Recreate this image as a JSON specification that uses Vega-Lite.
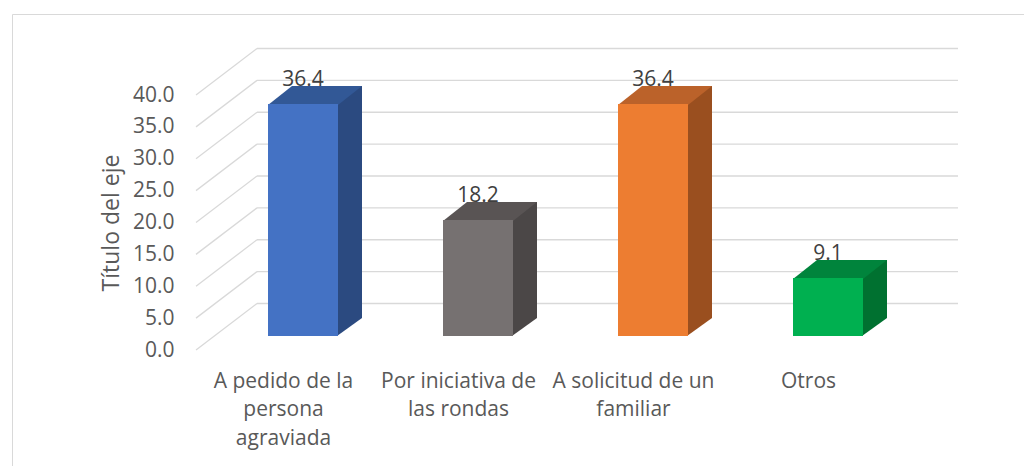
{
  "$schema": "https://vega.github.io/schema/vega-lite/v6.json",
  "autosize": {"type": "none"},
  "padding": {"left": 12, "top": 14, "right": 0, "bottom": 0},
  "width": 1012,
  "height": 452,
  "background": "#ffffff",
  "config": {
    "font": "Open Sans",
    "view": {"stroke": "#d9d9d9", "strokeWidth": 1}
  },
  "datasets": {
    "bars": [
      {"categoria": "A pedido de la persona agraviada", "valor": 36.4},
      {"categoria": "Por iniciativa de las rondas", "valor": 18.2},
      {"categoria": "A solicitud de un familiar", "valor": 36.4},
      {"categoria": "Otros", "valor": 9.1}
    ],
    "grid": [
      {"tick": 0}, {"tick": 5}, {"tick": 10}, {"tick": 15}, {"tick": 20},
      {"tick": 25}, {"tick": 30}, {"tick": 35}, {"tick": 40}
    ]
  },
  "resolve": {"scale": {"color": "independent"}},
  "encoding": {
    "x": {"field": "categoria", "type": "nominal", "sort": null, "title": null,
      "scale": {"domain": ["A pedido de la persona agraviada", "Por iniciativa de las rondas", "A solicitud de un familiar", "Otros"],
                "range": [184, 884], "paddingInner": 0, "paddingOuter": 0},
      "axis": {"title": null, "domain": false, "ticks": false, "tickSize": 0, "labelPadding": 0, "offset": -96,
               "labelAngle": 0, "labelFontSize": 21, "labelColor": "#595959", "labelLineHeight": 28.5,
               "labelBaseline": "top", "labelLimit": 400, "grid": false,
               "labelExpr": "datum.value == 'A pedido de la persona agraviada' ? ['A pedido de la', 'persona', 'agraviada'] : datum.value == 'Por iniciativa de las rondas' ? ['Por iniciativa de', 'las rondas'] : datum.value == 'A solicitud de un familiar' ? ['A solicitud de un', 'familiar'] : datum.label"}},
    "y": {"field": "valor", "type": "quantitative", "title": "Título del eje",
      "scale": {"domain": [0, 40], "range": [336, 81], "nice": false, "zero": true},
      "axis": {"title": "Título del eje", "values": [0, 5, 10, 15, 20, 25, 30, 35, 40], "format": ".1f",
               "grid": false, "domain": false, "ticks": false, "tickSize": 0, "labelPadding": 4, "offset": -166,
               "labelFontSize": 21, "labelColor": "#595959", "titleFontSize": 23, "titleColor": "#595959",
               "titleFontWeight": "normal", "titlePadding": 9}}
  },
  "layer": [
    {
      "data": {"name": "grid"},
      "mark": {"type": "rule", "color": "#d9d9d9", "strokeWidth": 1.3, "xOffset": -26.5, "x2Offset": 149.5, "yOffset": -46.5},
      "encoding": {
        "x": {"datum": "A pedido de la persona agraviada", "type": "nominal", "title": null,
          "axis": {"title": null, "domain": false, "ticks": false, "tickSize": 0, "labelPadding": 0, "offset": -96,
               "labelAngle": 0, "labelFontSize": 21, "labelColor": "#595959", "labelLineHeight": 28.5,
               "labelBaseline": "top", "labelLimit": 400, "grid": false,
               "labelExpr": "datum.value == 'A pedido de la persona agraviada' ? ['A pedido de la', 'persona', 'agraviada'] : datum.value == 'Por iniciativa de las rondas' ? ['Por iniciativa de', 'las rondas'] : datum.value == 'A solicitud de un familiar' ? ['A solicitud de un', 'familiar'] : datum.label"}},
        "x2": {"datum": "Otros"},
        "y": {"field": "tick", "type": "quantitative", "title": "Título del eje",
          "axis": {"title": "Título del eje", "values": [0, 5, 10, 15, 20, 25, 30, 35, 40], "format": ".1f",
               "grid": false, "domain": false, "ticks": false, "tickSize": 0, "labelPadding": 4, "offset": -166,
               "labelFontSize": 21, "labelColor": "#595959", "titleFontSize": 23, "titleColor": "#595959",
               "titleFontWeight": "normal", "titlePadding": 9}}
      }
    },
    {
      "data": {"name": "grid"},
      "mark": {"type": "point", "shape": "M 0 0 L -61 46.5", "size": 4, "filled": false, "opacity": 1, "stroke": "#d9d9d9", "strokeWidth": 1.3, "xOffset": -26.5, "yOffset": -46.5},
      "encoding": {
        "x": {"datum": "A pedido de la persona agraviada", "type": "nominal", "title": null,
          "axis": {"title": null, "domain": false, "ticks": false, "tickSize": 0, "labelPadding": 0, "offset": -96,
               "labelAngle": 0, "labelFontSize": 21, "labelColor": "#595959", "labelLineHeight": 28.5,
               "labelBaseline": "top", "labelLimit": 400, "grid": false,
               "labelExpr": "datum.value == 'A pedido de la persona agraviada' ? ['A pedido de la', 'persona', 'agraviada'] : datum.value == 'Por iniciativa de las rondas' ? ['Por iniciativa de', 'las rondas'] : datum.value == 'A solicitud de un familiar' ? ['A solicitud de un', 'familiar'] : datum.label"}},
        "y": {"field": "tick", "type": "quantitative", "title": "Título del eje",
          "axis": {"title": "Título del eje", "values": [0, 5, 10, 15, 20, 25, 30, 35, 40], "format": ".1f",
               "grid": false, "domain": false, "ticks": false, "tickSize": 0, "labelPadding": 4, "offset": -166,
               "labelFontSize": 21, "labelColor": "#595959", "titleFontSize": 23, "titleColor": "#595959",
               "titleFontWeight": "normal", "titlePadding": 9}}
      }
    },
    {
      "data": {"name": "bars"},
      "mark": {"type": "text", "fontSize": 21, "color": "#404040", "baseline": "alphabetic", "align": "center", "xOffset": 19.5, "yOffset": -32},
      "encoding": {
        "text": {"field": "valor", "type": "quantitative", "format": ".1f"}
      }
    },
    {
      "data": {"name": "bars"},
      "mark": {"type": "bar", "width": 25, "xOffset": 66, "yOffset": -32, "y2Offset": -32},
      "encoding": {
        "y2": {"datum": 0},
        "color": {"field": "categoria", "type": "nominal", "legend": null,
          "scale": {"domain": ["A pedido de la persona agraviada", "Por iniciativa de las rondas", "A solicitud de un familiar", "Otros"],
                    "range": ["#2b4a80", "#4b4747", "#9a4f1f", "#007130"]}}
      }
    },
    {
      "data": {"name": "bars"},
      "mark": {"type": "point", "shape": "M -1 0 L -1 -18 L 24 -18 Z", "size": 4, "filled": true, "opacity": 1, "strokeWidth": 0, "xOffset": 54.5, "yOffset": -14},
      "encoding": {
        "y": {"datum": 0, "type": "quantitative", "title": "Título del eje",
          "axis": {"title": "Título del eje", "values": [0, 5, 10, 15, 20, 25, 30, 35, 40], "format": ".1f",
               "grid": false, "domain": false, "ticks": false, "tickSize": 0, "labelPadding": 4, "offset": -166,
               "labelFontSize": 21, "labelColor": "#595959", "titleFontSize": 23, "titleColor": "#595959",
               "titleFontWeight": "normal", "titlePadding": 9}},
        "color": {"field": "categoria", "type": "nominal", "legend": null,
          "scale": {"domain": ["A pedido de la persona agraviada", "Por iniciativa de las rondas", "A solicitud de un familiar", "Otros"],
                    "range": ["#2b4a80", "#4b4747", "#9a4f1f", "#007130"]}}
      }
    },
    {
      "data": {"name": "bars"},
      "mark": {"type": "point", "shape": "M -35 1 L 35 1 L 59 -18 L -11 -18 Z", "size": 4, "filled": true, "opacity": 1, "strokeWidth": 0, "xOffset": 19.5, "yOffset": -14},
      "encoding": {
        "color": {"field": "categoria", "type": "nominal", "legend": null,
          "scale": {"domain": ["A pedido de la persona agraviada", "Por iniciativa de las rondas", "A solicitud de un familiar", "Otros"],
                    "range": ["#325896", "#595454", "#bb622a", "#00843c"]}}
      }
    },
    {
      "data": {"name": "bars"},
      "mark": {"type": "bar", "width": 70, "xOffset": 19.5, "yOffset": -14, "y2Offset": -14},
      "encoding": {
        "y2": {"datum": 0},
        "color": {"field": "categoria", "type": "nominal", "legend": null,
          "scale": {"domain": ["A pedido de la persona agraviada", "Por iniciativa de las rondas", "A solicitud de un familiar", "Otros"],
                    "range": ["#4472c4", "#767171", "#ed7d31", "#00b050"]}}
      }
    }
  ]
}
